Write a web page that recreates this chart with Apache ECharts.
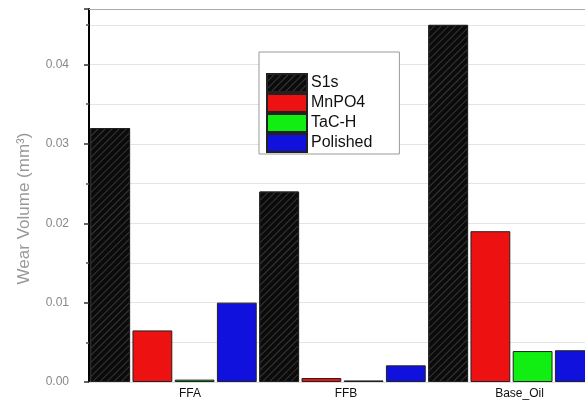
<!DOCTYPE html>
<html>
<head>
<meta charset="utf-8">
<script src="https://cdn.jsdelivr.net/npm/echarts@6/dist/echarts.min.js"></script>
<style>html,body{margin:0;padding:0;background:#fff;overflow:hidden;width:585px;height:401px;}#c{width:600px;height:401px;}</style>
</head>
<body>
<div id="c"></div>
<script>
const categories = ['FFA', 'FFB', 'Base_Oil'];
const seriesNames = ['S1s', 'MnPO4', 'TaC-H', 'Polished'];
const s1s = [0.032, 0.024, 0.045];
const mnpo4 = [0.0065, 0.0005, 0.019];
const tach = [0.0003, 0.0002, 0.0039];
const polished = [0.010, 0.0021, 0.0040];
const yTicks = ['0.00', '0.01', '0.02', '0.03', '0.04'];
const colors = ['#0b0b0b', '#ee1111', '#11ee11', '#1111dd'];
const values = [s1s, mnpo4, tach, polished];
const labelShift = { 'FFA': 33, 'FFB': 7, 'Base_Oil': 16 };

const chart = echarts.init(document.getElementById('c'));
chart.setOption({
  animation: false,
  backgroundColor: '#fff',
  grid: { left: 89, top: 9, width: 507, bottom: 19, containLabel: false },
  legend: {
    orient: 'vertical', left: 259, top: 52,
    padding: [21, 27, 1, 7], itemGap: 0, itemWidth: 40, itemHeight: 18,
    borderColor: '#999', borderWidth: 1, backgroundColor: '#fff',
    textStyle: { fontFamily: 'Liberation Sans, Arial', fontSize: 16, color: '#111', padding: [0, 0, 0, -1] },
    data: seriesNames.map(n => ({ name: n, icon: 'rect' }))
  },
  xAxis: {
    type: 'category', data: categories,
    axisLine: { show: true, lineStyle: { color: '#ddd', width: 1 } },
    axisTick: { show: false },
    axisLabel: {
      fontFamily: 'Liberation Sans, Arial', fontSize: 12, color: '#111', margin: 6,
      formatter: v => '{p' + categories.indexOf(v) + '|' + v + '}',
      rich: {
        p0: { padding: [0, 0, 0, labelShift['FFA']], fontSize: 12, color: '#111' },
        p1: { padding: [0, 0, 0, labelShift['FFB']], fontSize: 12, color: '#111' },
        p2: { padding: [0, 0, 0, labelShift['Base_Oil']], fontSize: 12, color: '#111' }
      }
    }
  },
  yAxis: {
    type: 'value', min: 0, max: 0.047, interval: 0.01,
    name: 'Wear Volume (mm³)', nameLocation: 'middle', nameGap: 56, nameRotate: 90,
    nameTextStyle: { fontFamily: 'Liberation Sans, Arial', fontSize: 17, color: '#999', padding: [0, 26, 0, 0] },
    axisLine: { show: true, lineStyle: { color: '#000', width: 2 } },
    axisTick: { show: true, inside: false, length: 5, lineStyle: { color: '#333', width: 1.5 } },
    minorTick: { show: true, splitNumber: 2, length: 3, lineStyle: { color: '#555', width: 1.5 } },
    splitLine: { show: true, lineStyle: { color: '#e4e4e4', width: 1 } },
    minorSplitLine: { show: true, lineStyle: { color: '#e4e4e4', width: 1 } },
    axisLabel: {
      fontFamily: 'Liberation Sans, Arial', fontSize: 12, color: '#888', margin: 20,
      formatter: v => {
        const i = Math.round(v / 0.01);
        return Math.abs(v - i * 0.01) < 1e-9 && yTicks[i] ? yTicks[i] : '';
      }
    }
  },
  graphic: [{
    type: 'line', shape: { x1: 89, y1: 9.5, x2: 600, y2: 9.5 },
    style: { stroke: '#aaa', lineWidth: 1 }, z: 10
  }],
  series: seriesNames.map((n, i) => ({
    name: n, type: 'bar', data: values[i],
    barGap: '6%', barCategoryGap: '1.5%',
    itemStyle: Object.assign({ color: colors[i], borderColor: '#222', borderWidth: 1 },
      i === 0 ? { decal: { symbol: 'rect', color: 'rgba(90,90,90,0.55)', dashArrayX: [1, 0], dashArrayY: [1, 4], rotation: -Math.PI / 4 } } : {})
  }))
});
</script>
</body>
</html>
